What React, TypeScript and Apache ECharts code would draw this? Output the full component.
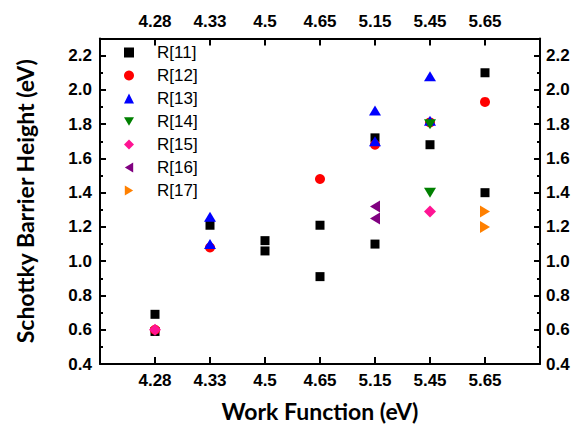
import { useEffect, useRef } from 'react';
import * as echarts from 'echarts';

const categories = ['4.28', '4.33', '4.5', '4.65', '5.15', '5.45', '5.65'];

type Pt = [string, number];
const r11: Pt[] = [
  ['4.28', 0.69], ['4.28', 0.59], ['4.33', 1.21], ['4.5', 1.12], ['4.5', 1.06],
  ['4.65', 1.21], ['4.65', 0.91], ['5.15', 1.72], ['5.15', 1.10], ['5.45', 1.68],
  ['5.65', 2.10], ['5.65', 1.40],
];
const r12: Pt[] = [['4.28', 0.60], ['4.33', 1.08], ['4.65', 1.48], ['5.15', 1.68], ['5.45', 1.81], ['5.65', 1.93]];
const r13: Pt[] = [['4.33', 1.26], ['4.33', 1.10], ['5.15', 1.88], ['5.15', 1.70], ['5.45', 2.08], ['5.45', 1.82]];
const r14: Pt[] = [['5.45', 1.80], ['5.45', 1.40]];
const r15: Pt[] = [['4.28', 0.60], ['5.45', 1.29]];
const r16: Pt[] = [['5.15', 1.32], ['5.15', 1.25]];
const r17: Pt[] = [['5.65', 1.29], ['5.65', 1.20]];

const seriesNames = ['R[11]', 'R[12]', 'R[13]', 'R[14]', 'R[15]', 'R[16]', 'R[17]'];
const seriesData = [r11, r12, r13, r14, r15, r16, r17];
const seriesColors = ['#000000', '#ff0000', '#0000ff', '#008000', '#ff1493', '#800080', '#ff8000'];
const seriesSymbols = [
  'rect',
  'circle',
  'triangle',
  'path://M0,0L12,0L6,10Z',
  'diamond',
  'path://M10,0L10,12L0,6Z',
  'path://M0,0L0,12L10,6Z',
];
const seriesSizes: (number | number[])[] = [9, 10, [12, 10], [12, 10], 12, [10, 12], [10, 12]];

const Y_MIN = 0.4;
const Y_MAX = 2.3;
const Y_LABEL_MAX = 2.2;

const tickFont = {
  fontFamily: 'Liberation Sans, Arial, sans-serif',
  fontWeight: 'bold' as const,
  fontSize: 17,
  color: '#000',
};
const titleFont = {
  fontFamily: 'Lato, Open Sans, sans-serif',
  fontWeight: 'bold' as const,
  fontSize: 23,
  color: '#000',
};

const axisLine = { show: true, lineStyle: { color: '#000', width: 2 } };

function xLabel(v: number) {
  const i = Math.round(v);
  return i >= 1 && i <= categories.length ? categories[i - 1] : '';
}
function yLabel(v: number) {
  return v > Y_LABEL_MAX + 0.01 ? '' : v.toFixed(1);
}

export default function App() {
  const ref = useRef<HTMLDivElement>(null);
  useEffect(() => {
    const chart = echarts.init(ref.current!, null, { renderer: 'svg' });
    const xBase = {
      type: 'value' as const,
      min: 0,
      max: categories.length + 1,
      interval: 1,
      axisLine,
      axisTick: { show: true, inside: true, length: 7, lineStyle: { color: '#000', width: 2 } },
      splitLine: { show: false },
      axisLabel: { ...tickFont, formatter: xLabel },
    };
    const yMajor = {
      type: 'value' as const,
      min: Y_MIN,
      max: Y_MAX,
      interval: 0.2,
      axisLine,
      axisTick: { show: true, inside: true, length: 6, lineStyle: { color: '#000', width: 2 } },
      splitLine: { show: false },
    };
    const yMinor = {
      type: 'value' as const,
      min: Y_MIN,
      max: Y_MAX,
      interval: 0.1,
      axisLine: { show: false },
      axisTick: { show: true, inside: true, length: 3, lineStyle: { color: '#000', width: 2 } },
      axisLabel: { show: false },
      splitLine: { show: false },
    };
    chart.setOption({
      animation: false,
      backgroundColor: '#fff',
      grid: { left: 100, right: 42, top: 38.5, bottom: 68, containLabel: false },
      legend: {
        orient: 'vertical',
        left: 124,
        top: 43,
        padding: 0,
        itemWidth: 10,
        itemHeight: 10,
        itemGap: 4,
        textStyle: {
          fontFamily: 'Liberation Sans, Arial, sans-serif',
          fontSize: 17,
          color: '#000',
          lineHeight: 19,
          padding: [0, 0, 0, 18],
        },
        data: seriesNames,
      },
      xAxis: [
        {
          ...xBase,
          position: 'bottom',
          axisLabel: { ...xBase.axisLabel, margin: 8 },
          name: 'Work Function (eV)',
          nameLocation: 'middle',
          nameGap: 35,
          nameTextStyle: titleFont,
        },
        {
          ...xBase,
          position: 'top',
          axisLabel: { ...xBase.axisLabel, margin: 9 },
        },
      ],
      yAxis: [
        {
          ...yMajor,
          position: 'left',
          axisLabel: { ...tickFont, margin: 8, formatter: yLabel },
          name: 'Schottky Barrier Height (eV)',
          nameLocation: 'middle',
          nameGap: 64,
          nameRotate: 90,
          nameTextStyle: titleFont,
        },
        { ...yMinor, position: 'left' },
        {
          ...yMajor,
          position: 'right',
          axisLabel: { ...tickFont, margin: 6, formatter: yLabel },
        },
        { ...yMinor, position: 'right' },
      ],
      series: seriesNames.map((name, k) => ({
        name,
        type: 'scatter',
        xAxisIndex: 0,
        yAxisIndex: 0,
        symbol: seriesSymbols[k],
        symbolSize: seriesSizes[k],
        itemStyle: { color: seriesColors[k], opacity: 1 },
        emphasis: { disabled: true },
        data: seriesData[k].map(([c, v]) => [categories.indexOf(c) + 1, v]),
      })),
    });
    return () => chart.dispose();
  }, []);
  return <div ref={ref} style={{ position: 'fixed', left: 0, top: 0, width: 582, height: 432 }} />;
}
